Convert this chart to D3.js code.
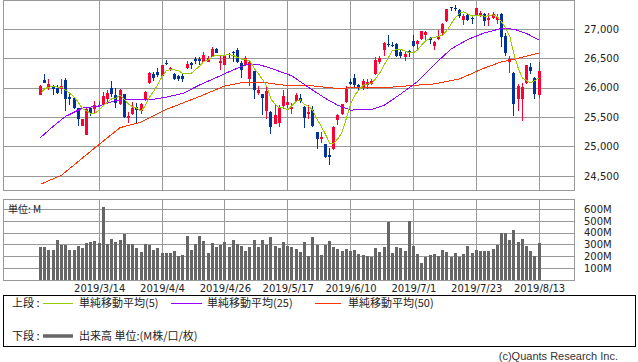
<!DOCTYPE html>
<html>
<head>
<meta charset="utf-8">
<script src="https://cdn.jsdelivr.net/npm/d3@7"></script>
<style>
  body { margin: 0; background: #fff; }
  svg { display: block; }
</style>
</head>
<body>
<script>
// trading days shown
const dates = [
  "2019/2/22","2019/2/25","2019/2/26","2019/2/27","2019/2/28",
  "2019/3/1","2019/3/4","2019/3/5","2019/3/6","2019/3/7","2019/3/8","2019/3/11","2019/3/12","2019/3/13","2019/3/14","2019/3/15",
  "2019/3/18","2019/3/19","2019/3/20","2019/3/21","2019/3/22","2019/3/25","2019/3/26","2019/3/27","2019/3/28","2019/3/29",
  "2019/4/1","2019/4/2","2019/4/3","2019/4/4","2019/4/5","2019/4/8","2019/4/9","2019/4/10","2019/4/11","2019/4/12",
  "2019/4/15","2019/4/16","2019/4/17","2019/4/18","2019/4/22","2019/4/23","2019/4/24","2019/4/25","2019/4/26","2019/4/29","2019/4/30",
  "2019/5/1","2019/5/2","2019/5/3","2019/5/6","2019/5/7","2019/5/8","2019/5/9","2019/5/10","2019/5/13","2019/5/14","2019/5/15","2019/5/16","2019/5/17",
  "2019/5/20","2019/5/21","2019/5/22","2019/5/23","2019/5/24","2019/5/28","2019/5/29","2019/5/30","2019/5/31",
  "2019/6/3","2019/6/4","2019/6/5","2019/6/6","2019/6/7","2019/6/10","2019/6/11","2019/6/12","2019/6/13","2019/6/14",
  "2019/6/17","2019/6/18","2019/6/19","2019/6/20","2019/6/21","2019/6/24","2019/6/25","2019/6/26","2019/6/27","2019/6/28",
  "2019/7/1","2019/7/2","2019/7/3","2019/7/5","2019/7/8","2019/7/9","2019/7/10","2019/7/11","2019/7/12","2019/7/15","2019/7/16",
  "2019/7/17","2019/7/18","2019/7/19","2019/7/22","2019/7/23","2019/7/24","2019/7/25","2019/7/26","2019/7/29","2019/7/30","2019/7/31",
  "2019/8/1","2019/8/2","2019/8/5","2019/8/6","2019/8/7","2019/8/8","2019/8/9","2019/8/12","2019/8/13"
];

const open = [25880,26130,26020,26015,26000,25985,26124,25841,25824,25650,
  25350,25200,25660,25632,25706,25700,25800,25990,25880,25720,
  25890,25490,25550,25676,25611,25790,26075,26235,26262,26198,
  26427,26300,26240,26195,26200,26330,26420,26490,26490,26440,
  26440,26530,26665,26425,26390,26570,26600,26640,26414,26385,
  26141,26283,25915,25890,25603,25586,25390,25394,25690,25700,
  25640,25775,25820,25677,25546,25620,25246,25133,25040,24850,
  24950,25450,25550,25756,26090,26170,26040,26000,26040,26060,
  26230,26430,26650,26750,26730,26736,26600,26520,26625,26800,
  26740,26830,26890,26840,26710,26830,26930,27130,27370,27360,
  27315,27150,27245,27190,27230,27230,27250,27150,27180,27160,
  27250,26880,26440,26254,25802,25802,26084,26350,26170,25870];
const high = [26050,26240,26155,26040,26040,26140,26158,25886,25835,25660,
  25470,25660,25675,25780,25767,25925,25960,26110,25990,25980,
  25900,25580,25760,25740,25745,25950,26275,26260,26330,26390,
  26480,26360,26250,26210,26230,26450,26430,26520,26520,26600,
  26545,26695,26670,26550,26545,26595,26620,26680,26450,26538,
  26450,26290,26028,25900,26040,25600,25700,25700,25960,25970,
  25745,25910,25887,25690,25700,25690,25250,25240,25050,24980,
  25340,25560,25730,26030,26140,26240,26060,26150,26150,26150,
  26525,26540,26770,26905,26780,26765,26650,26600,26650,26890,
  26820,26970,26960,26870,26800,26990,27100,27340,27380,27400,
  27340,27250,27270,27220,27360,27300,27275,27270,27285,27260,
  27280,26930,26540,26260,26060,26084,26385,26413,26190,26436];
const low = [25870,26075,25960,25875,25885,25895,25603,25700,25640,25348,
  25340,25195,25518,25550,25673,25690,25745,25845,25660,25700,
  25490,25400,25540,25400,25560,25780,26060,26120,26190,26190,
  26380,26280,26130,26110,26090,26320,26320,26400,26380,26430,
  26430,26520,26590,26300,26380,26510,26430,26425,26170,26368,
  26028,25802,25880,25530,25470,25220,25380,25330,25640,25660,
  25550,25760,25745,25310,25473,25330,24950,25065,24804,24680,
  24940,25360,25530,25740,26040,26020,25960,25960,25980,26050,
  26220,26400,26540,26700,26700,26530,26510,26450,26530,26700,
  26620,26820,26810,26750,26650,26810,26880,27120,27300,27300,
  27190,27060,27140,27090,27220,27210,27050,27050,27170,27090,
  26700,26540,26250,25518,25603,25433,26070,26226,25815,25830];
const close = [26030,26085,26056,25985,25905,26026,25813,25802,25660,25475,
  25460,25640,25575,25700,25709,25858,25914,25887,25745,25962,
  25502,25516,25657,25626,25717,25929,26259,26160,26218,26384,
  26424,26341,26150,26145,26143,26412,26384,26452,26449,26559,
  26511,26656,26597,26462,26543,26554,26592,26430,26310,26505,
  26438,25965,25968,25828,25942,25324,25532,25648,25862,25764,
  25679,25877,25776,25490,25586,25347,25127,25169,24815,24819,
  25332,25540,25720,25984,26062,26048,26004,26107,26090,26112,
  26465,26504,26753,26719,26727,26548,26536,26580,26600,26717,
  26787,26966,26945,26806,26784,26860,27088,27332,27359,27335,
  27219,27223,27154,27172,27349,27270,27141,27192,27250,27198,
  26864,26583,26485,25718,26030,26008,26379,26287,25897,26280];

// volume, millions
const volume = [282,282,254,254,338,296,296,254,254,287,
  273,315,321,330,310,616,304,346,324,338,
  389,304,304,273,239,304,296,254,273,231,
  231,231,245,203,211,372,254,304,372,330,
  231,315,282,296,324,282,338,304,287,248,
  282,338,282,338,296,361,290,268,318,290,
  282,262,239,318,203,361,296,211,296,330,
  276,262,245,262,245,254,220,211,203,192,
  268,239,276,493,231,276,268,245,499,287,
  220,141,192,211,220,203,254,239,192,231,
  192,220,287,231,254,245,245,245,262,296,
  394,394,338,423,324,346,290,245,203,315];

// 5-day average for the first four days (earlier closes are off the chart)
const ma5Lead = [25903, 25983, 26010, 26017];

// 25 and 50 day averages at these day positions
const ma25Day = [0,3,6,10,14,18,22,26,30,34,38,42,46,49,52,55,60,64,68,71,74,79,82,86,90,94,98,102,106,110,113,116,119];
const ma25Val = [25150,25342,25512,25653,25690,25784,25801,25793,25840,25903,26048,26175,26303,26391,26396,26332,26201,26005,25818,25699,25619,25631,25699,25895,26107,26396,26660,26821,26935,27008,26997,26924,26810];
const ma50Day = [0,5,14,19,24,30,38,44,48,54,58,64,70,76,82,88,94,100,106,110,113,119];
const ma50Val = [24356,24510,25036,25320,25415,25630,25852,26030,26085,26082,26044,26039,25993,25997,26000,26034,26065,26150,26337,26439,26486,26592];

const priceTicks = [24500, 25000, 25500, 26000, 26500, 27000];
const volTicks = [100, 200, 300, 400, 500, 600];
const dateTicks = ["2019/3/14","2019/4/4","2019/4/26","2019/5/17","2019/6/10","2019/7/1","2019/7/23","2019/8/13"];

const width = 638, height = 362;
const left = 3.5, right = 574.5;
const upTop = 0.5, upBottom = 190.5, volTop = 199.5, volBottom = 280.5;
const gridColor = "#999999";
const upColor = "#ff0033", downColor = "#003399";

const svg = d3.select("body").append("svg")
  .attr("width", width)
  .attr("height", height);

const x = d3.scalePoint().domain(dates).range([40, 538.6]);
const yPrice = d3.scaleLinear().domain([24250, 27485]).range([190.5, 0.5]);
const yVol = d3.scaleLinear().domain([0, 676]).range([280, 200]);
const px = (d) => Math.round(x(d));

// grid
const grid = svg.append("g").attr("stroke", gridColor).attr("stroke-width", 1).attr("shape-rendering", "crispEdges");
priceTicks.forEach((t) => {
  const yy = Math.round(yPrice(t)) + 0.5;
  grid.append("line").attr("x1", left).attr("x2", right).attr("y1", yy).attr("y2", yy);
});
volTicks.forEach((t) => {
  const yy = Math.round(yVol(t)) + 0.5;
  grid.append("line").attr("x1", left).attr("x2", right).attr("y1", yy).attr("y2", yy);
});
dateTicks.forEach((d) => {
  const xx = px(d) + 0.5;
  grid.append("line").attr("x1", xx).attr("x2", xx).attr("y1", upTop).attr("y2", upBottom);
  grid.append("line").attr("x1", xx).attr("x2", xx).attr("y1", volTop).attr("y2", volBottom);
});
grid.append("rect").attr("x", left).attr("y", upTop).attr("width", right - left).attr("height", upBottom - upTop).attr("fill", "none");
grid.append("rect").attr("x", left).attr("y", volTop).attr("width", right - left).attr("height", volBottom - volTop).attr("fill", "none");

// candles
const candles = svg.append("g").attr("shape-rendering", "crispEdges");
dates.forEach((d, i) => {
  const col = close[i] >= open[i] ? upColor : downColor;
  const cx = px(d);
  candles.append("line")
    .attr("x1", cx + 0.5).attr("x2", cx + 0.5)
    .attr("y1", yPrice(high[i])).attr("y2", yPrice(low[i]))
    .attr("stroke", col);
  const top = yPrice(Math.max(open[i], close[i]));
  const bot = yPrice(Math.min(open[i], close[i]));
  candles.append("rect")
    .attr("x", cx - 1).attr("width", 3)
    .attr("y", top).attr("height", Math.max(1, bot - top))
    .attr("fill", col);
});

// moving averages (aliased like the original)
const ma5 = close.map((c, i) => i < 4 ? ma5Lead[i] : d3.mean(close.slice(i - 4, i + 1)));
const lineIdx = d3.line()
  .x((d) => x(dates[d[0]]) + 0.5)
  .y((d) => yPrice(d[1]));

const maLines = svg.append("g").attr("fill", "none").attr("stroke-width", 1).attr("shape-rendering", "crispEdges");
maLines.append("path")
  .attr("d", lineIdx(ma50Day.map((d, k) => [d, ma50Val[k]])))
  .attr("stroke", "#ff3300");
maLines.append("path")
  .attr("d", lineIdx(ma25Day.map((d, k) => [d, ma25Val[k]])))
  .attr("stroke", "#9900ff");
maLines.append("path")
  .attr("d", lineIdx(ma5.map((v, i) => [i, v])))
  .attr("stroke", "#99cc00");

// volume bars
svg.append("g").attr("shape-rendering", "crispEdges")
  .selectAll("rect")
  .data(dates)
  .join("rect")
  .attr("x", (d) => px(d) - 1)
  .attr("width", 3)
  .attr("y", (d, i) => yVol(volume[i]))
  .attr("height", (d, i) => 280 - yVol(volume[i]))
  .attr("fill", "#666666");

// axes
const tickFont = "'DejaVu Sans', sans-serif";
const priceAxis = d3.axisRight(yPrice).tickValues(priceTicks).tickSize(0).tickPadding(9.5).tickFormat(d3.format(","));
svg.append("g").attr("transform", "translate(" + right + ",0)").call(priceAxis)
  .call((g) => g.select(".domain").remove())
  .selectAll("text").attr("font-family", tickFont).attr("font-size", 10).attr("fill", "#222");

const volAxis = d3.axisRight(yVol).tickValues(volTicks).tickSize(0).tickPadding(9.5).tickFormat((d) => d + "M");
svg.append("g").attr("transform", "translate(" + right + ",0)").call(volAxis)
  .call((g) => g.select(".domain").remove())
  .selectAll("text").attr("font-family", tickFont).attr("font-size", 10).attr("fill", "#222");

const dateAxis = d3.axisBottom(x).tickValues(dateTicks).tickSize(0).tickPadding(5);
svg.append("g").attr("transform", "translate(0.5,280)").call(dateAxis)
  .call((g) => g.select(".domain").remove())
  .selectAll("text").attr("font-family", tickFont).attr("font-size", 10).attr("fill", "#222");

const jp = "'Noto Sans CJK JP', sans-serif";
svg.append("text")
  .attr("x", 8).attr("y", 213)
  .attr("font-family", jp).attr("font-size", 10).attr("fill", "#222")
  .text("単位: M");

// legend
const legend = svg.append("g").attr("font-family", jp).attr("font-size", 11).attr("fill", "#222");
legend.append("rect")
  .attr("x", 3.5).attr("y", 295.5).attr("width", 632).attr("height", 51)
  .attr("fill", "none").attr("stroke", "#000").attr("shape-rendering", "crispEdges");
legend.append("text").attr("x", 12).attr("y", 307).text("上段 :");
const legendItems = [
  { x1: 43, x2: 73, tx: 79, color: "#99cc00", label: "単純移動平均(5)" },
  { x1: 171, x2: 202, tx: 207, color: "#9900ff", label: "単純移動平均(25)" },
  { x1: 315, x2: 341, tx: 348, color: "#ff3300", label: "単純移動平均(50)" }
];
legendItems.forEach((it) => {
  legend.append("line").attr("x1", it.x1).attr("x2", it.x2).attr("y1", 303.5).attr("y2", 303.5)
    .attr("stroke", it.color).attr("stroke-width", 1);
  legend.append("text").attr("x", it.tx).attr("y", 307).text(it.label);
});
legend.append("text").attr("x", 12).attr("y", 340).text("下段 :");
legend.append("line").attr("x1", 43).attr("x2", 73).attr("y1", 336).attr("y2", 336)
  .attr("stroke", "#666666").attr("stroke-width", 3.5);
legend.append("text").attr("x", 79).attr("y", 340).text("出来高 単位:(M株/口/枚)");

svg.append("text")
  .attr("x", 618).attr("y", 360)
  .attr("text-anchor", "end")
  .attr("font-family", "'Liberation Sans', sans-serif").attr("font-size", 11).attr("fill", "#333")
  .text("(c)Quants Research Inc.");
</script>
</body>
</html>
